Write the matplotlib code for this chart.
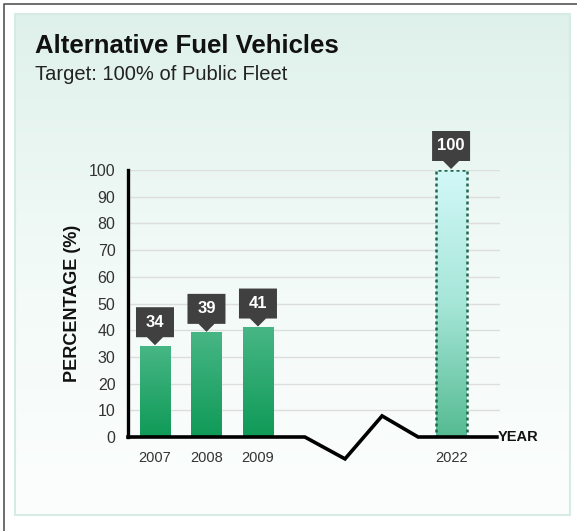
import numpy as np
import matplotlib.pyplot as plt
import matplotlib.patches as mpatches
import matplotlib.transforms as mtransforms
from matplotlib.colors import LinearSegmentedColormap

plt.rcParams['font.family'] = ['Liberation Sans', 'DejaVu Sans']

# fleet share data
years = ['2007', '2008', '2009', '2022']
values = [34, 39, 41, 100]
positions = [0, 1, 2, 5.75]
is_target = [False, False, False, True]

W, H = 577, 531
fig = plt.figure(figsize=(W / 100, H / 100), dpi=100)
fig.patch.set_facecolor('white')

# outer frame and mint panel behind the chart
bg = fig.add_axes([0, 0, 1, 1], zorder=-5)
bg.axis('off')
panel = np.linspace(0, 1, 256).reshape(-1, 1)
panel_cmap = LinearSegmentedColormap.from_list('panel', ['#dff1eb', '#f2faf7', '#fcfefd'])
bg.imshow(panel, cmap=panel_cmap, extent=[15, 570, 515, 14], aspect='auto', zorder=0)
bg.add_patch(mpatches.Rectangle((15, 14), 555, 501, fill=False, ec='#d6ebe4', lw=1.5, zorder=1))
bg.plot([4, 4, 577], [531, 3.5, 3.5], color='#555555', lw=1.2, zorder=2)
bg.set_xlim(0, W)
bg.set_ylim(H, 0)

fig.text(35 / W, 1 - 46 / H, 'Alternative Fuel Vehicles', fontsize=18.5, fontweight='bold',
         color='#111111', va='center', ha='left')
fig.text(35 / W, 1 - 75 / H, 'Target: 100% of Public Fleet', fontsize=14.5,
         color='#222222', va='center', ha='left')

ax = fig.add_axes([128 / W, 94 / H, 372 / W, 267 / H])
ax.set_facecolor('none')
ax.set_xlim(-0.524, 6.70)
ax.set_ylim(0, 100)

for s in ['top', 'right', 'bottom']:
    ax.spines[s].set_visible(False)
ax.spines['left'].set_linewidth(2.4)
ax.spines['left'].set_color('black')
ax.spines['left'].set_zorder(6)

ax.set_yticks(range(0, 101, 10))
ax.tick_params(axis='y', length=0, pad=9, labelsize=11.5, labelcolor='#333333')
ax.set_xticks(positions)
ax.set_xticklabels(years)
ax.tick_params(axis='x', length=0, pad=10, labelsize=10.5, labelcolor='#333333')
ax.set_ylabel('PERCENTAGE (%)', fontsize=13, fontweight='bold', color='#111111', labelpad=6)

for yv in range(10, 101, 10):
    ax.axhline(yv, color='#dddddd', lw=1, zorder=1)

bar_w = 0.6
actual_cmap = LinearSegmentedColormap.from_list('actual', ['#0f9a57', '#47b685'])
target_cmap = LinearSegmentedColormap.from_list('target', ['#55bb92', '#a6e6d8', '#d2f8f8'])
grad = np.linspace(0, 1, 256).reshape(-1, 1)
for x, v, tgt in zip(positions, values, is_target):
    cmap = target_cmap if tgt else actual_cmap
    ax.imshow(grad, cmap=cmap, origin='lower', aspect='auto',
              extent=[x - bar_w / 2, x + bar_w / 2, 0, v], zorder=3)
    if tgt:
        ax.add_patch(mpatches.Rectangle((x - bar_w / 2, 0), bar_w, v, fill=False,
                                        ec='#24664d', lw=1.8, ls=(0, (1.2, 1.2)), zorder=4))

# value callouts: dark box with a pointer, placed in inches above each bar
bw, bh, ph, pw = 0.38, 0.30, 0.09, 0.08
callout = np.array([[0, 0.01], [-pw, ph], [-bw / 2, ph], [-bw / 2, ph + bh],
                    [bw / 2, ph + bh], [bw / 2, ph], [pw, ph]])
for x, v in zip(positions, values):
    tr = fig.dpi_scale_trans + mtransforms.ScaledTranslation(x, v, ax.transData)
    ax.add_patch(mpatches.Polygon(callout, closed=True, fc='#404040', ec='none',
                                  transform=tr, clip_on=False, zorder=7))
    ax.text(0, ph + bh / 2, str(v), transform=tr, ha='center', va='center',
            fontsize=12, fontweight='bold', color='white', zorder=8)

# broken time axis
axis_x = [-0.524, 2.91, 3.69, 4.41, 5.11, 6.64]
axis_y = [0, 0, -8.2, 7.9, 0, 0]
ax.plot(axis_x, axis_y, color='black', lw=2.6, clip_on=False, zorder=5,
        solid_joinstyle='miter')
ax.text(6.66, 0, 'YEAR', fontsize=10.5, fontweight='bold', color='#111111',
        ha='left', va='center')

fig.savefig('out.png', dpi=100)
